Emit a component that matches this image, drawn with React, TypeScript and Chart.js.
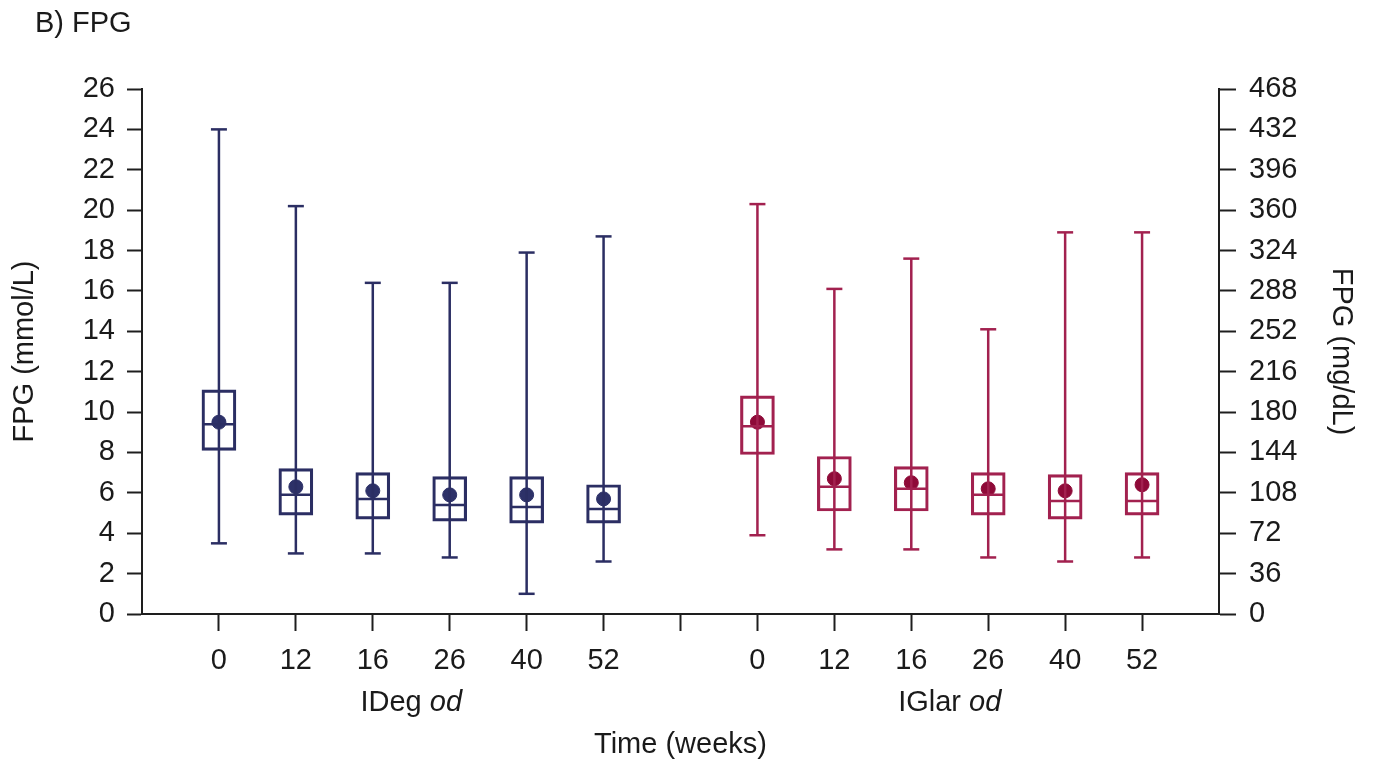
import React, { useEffect, useRef } from "react";
import { Chart, registerables } from "chart.js";

Chart.register(...registerables);

// ---- Data (mmol/L) ----
const weekLabels = ["0", "12", "16", "26", "40", "52"];
const groupNames = ["IDeg", "IGlar"];
const groupSuffix = "od";

// IDeg od
const idegMin = [3.5, 3.0, 3.0, 2.8, 1.0, 2.6];
const idegQ1 = [8.1, 4.9, 4.7, 4.6, 4.5, 4.5];
const idegMedian = [9.4, 5.9, 5.7, 5.4, 5.3, 5.2];
const idegMean = [9.5, 6.3, 6.1, 5.9, 5.9, 5.7];
const idegQ3 = [11.1, 7.2, 7.0, 6.8, 6.8, 6.4];
const idegMax = [24.0, 20.2, 16.4, 16.4, 17.9, 18.7];

// IGlar od
const iglarMin = [3.9, 3.2, 3.2, 2.8, 2.6, 2.8];
const iglarQ1 = [7.9, 5.1, 5.1, 4.9, 4.7, 4.9];
const iglarMedian = [9.3, 6.3, 6.2, 5.9, 5.6, 5.6];
const iglarMean = [9.5, 6.7, 6.5, 6.2, 6.1, 6.4];
const iglarQ3 = [10.8, 7.8, 7.3, 7.0, 6.9, 7.0];
const iglarMax = [20.3, 16.1, 17.6, 14.1, 18.9, 18.9];

// slot positions on the x axis (gap slot between the two groups)
const idegSlots = [0, 1, 2, 3, 4, 5];
const iglarSlots = [7, 8, 9, 10, 11, 12];
const xTickLabels = [...weekLabels, "", ...weekLabels];

const leftTicksMax = 26;
const leftStep = 2;
const rightTicksMax = 468;
const rightStep = 36;

const BLUE_LINE = "#2b2e63";
const BLUE_DOT = "#2d3168";
const RED_LINE = "#a2214f";
const RED_DOT = "#8e0a38";
const AXIS = "#1e1e1e";
const FONT = "'Liberation Sans', Arial, sans-serif";
const FS = 29;

function whiskerData(slots: number[], lo: number[], hi: number[]) {
  const out: any[] = [];
  slots.forEach((x, i) => {
    out.push({ x, y: lo[i] });
    out.push({ x, y: hi[i] });
    out.push({ x, y: null });
  });
  return out;
}
function pts(slots: number[], v: number[]) {
  return slots.map((x, i) => ({ x, y: v[i] }));
}
function boxes(slots: number[], q1: number[], q3: number[]) {
  return slots.map((x, i) => ({ x, y: [q1[i], q3[i]] }));
}

const groupLabelPlugin = {
  id: "groupLabels",
  afterDraw(chart: any) {
    const { ctx } = chart;
    const xs = chart.scales.x;
    const centers = [
      (idegSlots[0] + idegSlots[idegSlots.length - 1]) / 2,
      (iglarSlots[0] + iglarSlots[iglarSlots.length - 1]) / 2,
    ];
    ctx.save();
    ctx.fillStyle = "#1a1a1a";
    ctx.textBaseline = "middle";
    ctx.textAlign = "left";
    groupNames.forEach((name, i) => {
      const cx = xs.getPixelForValue(centers[i]);
      const y = 703;
      ctx.font = `${FS}px ${FONT}`;
      const a = name + " ";
      const wa = ctx.measureText(a).width;
      ctx.font = `italic ${FS}px ${FONT}`;
      const wb = ctx.measureText(groupSuffix).width;
      const start = cx - (wa + wb) / 2;
      ctx.font = `${FS}px ${FONT}`;
      ctx.fillText(a, start, y);
      ctx.font = `italic ${FS}px ${FONT}`;
      ctx.fillText(groupSuffix, start + wa, y);
    });
    ctx.restore();
  },
};

export default function App() {
  const ref = useRef<HTMLCanvasElement | null>(null);
  useEffect(() => {
    if (!ref.current) return;
    const lineDs = (data: any[], color: string) => ({
      type: "line" as const,
      data,
      borderColor: color,
      borderWidth: 2.5,
      pointRadius: 0,
      spanGaps: false,
      fill: false,
      yAxisID: "y",
    });
    const pointDs = (data: any[], color: string, style: any, radius: number, fillColor: string, bw: number) => ({
      type: "line" as const,
      data,
      showLine: false,
      pointStyle: style,
      pointRadius: radius,
      pointBorderColor: color,
      pointBackgroundColor: fillColor,
      pointBorderWidth: bw,
      yAxisID: "y",
    });
    const boxDs = (data: any[], color: string) => ({
      type: "bar" as const,
      data,
      borderColor: color,
      backgroundColor: "rgba(0,0,0,0)",
      borderWidth: 2.5,
      borderSkipped: false,
      barThickness: 34,
      grouped: false,
      yAxisID: "y",
    });

    const chart = new Chart(ref.current, {
      type: "bar",
      data: {
        datasets: [
          lineDs(whiskerData(idegSlots, idegMin, idegMax), BLUE_LINE),
          lineDs(whiskerData(iglarSlots, iglarMin, iglarMax), RED_LINE),
          boxDs(boxes(idegSlots, idegQ1, idegQ3), BLUE_LINE),
          boxDs(boxes(iglarSlots, iglarQ1, iglarQ3), RED_LINE),
          pointDs(pts(idegSlots, idegMin), BLUE_LINE, "line", 8, BLUE_LINE, 2.5),
          pointDs(pts(idegSlots, idegMax), BLUE_LINE, "line", 8, BLUE_LINE, 2.5),
          pointDs(pts(iglarSlots, iglarMin), RED_LINE, "line", 8, RED_LINE, 2.5),
          pointDs(pts(iglarSlots, iglarMax), RED_LINE, "line", 8, RED_LINE, 2.5),
          pointDs(pts(idegSlots, idegMedian), BLUE_LINE, "line", 16, BLUE_LINE, 2.5),
          pointDs(pts(iglarSlots, iglarMedian), RED_LINE, "line", 16, RED_LINE, 2.5),
          pointDs(pts(idegSlots, idegMean), BLUE_DOT, "circle", 7, BLUE_DOT, 1),
          pointDs(pts(iglarSlots, iglarMean), RED_DOT, "circle", 7, RED_DOT, 1),
        ] as any,
      },
      options: {
        animation: false,
        responsive: false,
        events: [],
        layout: { padding: { left: 0, right: 0, top: 89, bottom: 0 } },
        plugins: {
          legend: { display: false },
          title: { display: false },
          tooltip: { enabled: false },
        },
        scales: {
          x: {
            type: "linear",
            min: -1,
            max: 13,
            offset: false,
            afterBuildTicks: (scale: any) => {
              scale.ticks = xTickLabels.map((_, i) => ({ value: i }));
            },
            afterFit: (scale: any) => {
              scale.height = 765 - 614;
            },
            ticks: {
              autoSkip: false,
              maxRotation: 0,
              padding: 13,
              color: "#1a1a1a",
              font: { family: FONT, size: FS },
              callback: (v: any) => xTickLabels[Math.round(Number(v))] ?? "",
            },
            grid: {
              display: true,
              offset: false,
              drawOnChartArea: false,
              drawTicks: true,
              tickLength: 17,
              tickWidth: 2,
              tickColor: AXIS,
            },
            border: { display: true, color: AXIS, width: 2 },
            title: {
              display: true,
              text: "Time (weeks)",
              color: "#1a1a1a",
              font: { family: FONT, size: FS },
              padding: { top: 0, bottom: 3 },
            },
          },
          y: {
            type: "linear",
            position: "left",
            min: 0,
            max: leftTicksMax,
            afterFit: (scale: any) => {
              scale.width = 142;
            },
            ticks: {
              stepSize: leftStep,
              padding: 12,
              color: "#1a1a1a",
              font: { family: FONT, size: FS },
            },
            grid: {
              display: true,
              drawOnChartArea: false,
              drawTicks: true,
              tickLength: 15,
              tickWidth: 2,
              tickColor: AXIS,
            },
            border: { display: true, color: AXIS, width: 2 },
            title: {
              display: true,
              text: "FPG (mmol/L)",
              color: "#1a1a1a",
              font: { family: FONT, size: FS },
              padding: { top: 8, bottom: 0 },
            },
          },
          y2: {
            type: "linear",
            position: "right",
            min: 0,
            max: rightTicksMax,
            afterFit: (scale: any) => {
              scale.width = 1373 - 1219;
            },
            ticks: {
              stepSize: rightStep,
              padding: 13,
              color: "#1a1a1a",
              font: { family: FONT, size: FS },
            },
            grid: {
              display: true,
              drawOnChartArea: false,
              drawTicks: true,
              tickLength: 17,
              tickWidth: 2,
              tickColor: AXIS,
            },
            border: { display: true, color: AXIS, width: 2 },
            title: {
              display: true,
              text: "FPG (mg/dL)",
              color: "#1a1a1a",
              font: { family: FONT, size: FS },
              padding: { top: 15, bottom: 0 },
            },
          },
        },
      } as any,
      plugins: [groupLabelPlugin],
    });
    return () => chart.destroy();
  }, []);

  return (
    <div style={{ position: "absolute", left: 0, top: 0, width: 1373, height: 765, background: "#fff" }}>
      <div
        style={{
          position: "absolute",
          left: 35,
          top: 6,
          fontFamily: FONT,
          fontSize: FS,
          color: "#1a1a1a",
          lineHeight: "32px",
        }}
      >
        B) FPG
      </div>
      <canvas ref={ref} width={1373} height={765} style={{ display: "block" }} />
    </div>
  );
}
